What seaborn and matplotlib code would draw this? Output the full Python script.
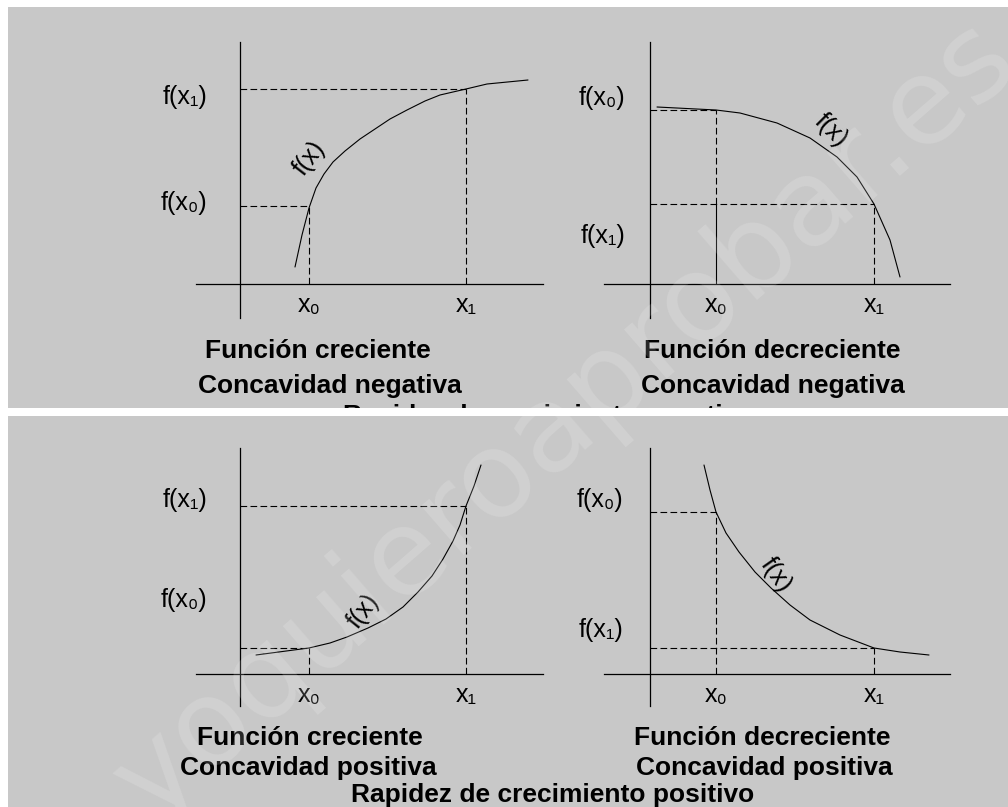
import matplotlib
matplotlib.use("Agg")
import matplotlib.pyplot as plt
import seaborn as sns

W, H = 1008, 807
PANEL = "#c8c8c8"

# Curve readings, one unit = 10 px of the original sheet, origin at the axes crossing
cre_neg_x = [5.5, 6.2, 6.9, 7.6, 8.4, 9.3, 10.5, 12.0, 13.5, 15.0, 16.7, 18.5, 20.0, 22.6, 24.7, 28.8]
cre_neg_y = [1.7, 4.9, 7.6, 9.6, 11.0, 12.2, 13.3, 14.5, 15.5, 16.5, 17.4, 18.3, 18.9, 19.5, 20.0, 20.4]

dec_neg_x = [0.7, 6.6, 9.0, 12.7, 16.0, 18.7, 20.7, 22.4, 24.0, 25.0]
dec_neg_y = [17.7, 17.4, 17.1, 16.1, 14.6, 12.7, 10.7, 8.0, 4.4, 0.7]

cre_pos_x = [1.6, 6.9, 9.0, 10.7, 12.8, 14.6, 16.3, 17.8, 19.2, 20.3, 21.3, 22.0, 22.6, 23.4, 24.1]
cre_pos_y = [1.9, 2.6, 3.1, 3.7, 4.6, 5.5, 6.7, 8.2, 9.8, 11.5, 13.3, 14.9, 16.8, 18.8, 20.9]

dec_pos_x = [5.4, 6.0, 6.6, 7.6, 8.9, 10.5, 12.1, 14.0, 16.0, 19.0, 22.4, 25.0, 27.9]
dec_pos_y = [20.9, 18.4, 16.2, 14.1, 12.2, 10.2, 8.6, 6.9, 5.4, 3.9, 2.6, 2.2, 1.9]

# x0, x1, f(x0), f(x1)
cre_neg_marks = [6.9, 22.6, 7.8, 19.5]
dec_neg_marks = [6.6, 22.4, 17.4, 8.0]
cre_pos_marks = [6.9, 22.6, 2.6, 16.8]
dec_pos_marks = [6.6, 22.4, 16.2, 2.6]

x_labels = ["x\u2080", "x\u2081"]
f_labels = ["f(x\u2080)", "f(x\u2081)"]

titles_top = [("Función creciente", 318, 358), ("Concavidad negativa", 330, 393),
              ("Función decreciente", 772, 358), ("Concavidad negativa", 773, 393),
              ("Rapidez de crecimiento negativo", 548, 423)]
titles_bottom = [("Función creciente", 310, 745), ("Concavidad positiva", 308, 775),
                 ("Función decreciente", 762, 745), ("Concavidad positiva", 764, 775),
                 ("Rapidez de crecimiento positivo", 553, 802)]

DASH = (0, (6, 3))


def panel(fig, box, titles):
    """Gray background block, titles given in sheet pixels"""
    l, t, r, b = box
    ax = fig.add_axes([l / W, 1 - b / H, (r - l) / W, (b - t) / H])
    ax.set_xlim(l, r)
    ax.set_ylim(b, t)
    ax.axis("off")
    ax.add_patch(plt.Rectangle((l, t), r - l, b - t, color=PANEL, zorder=0))
    for txt, x, y in titles:
        ax.text(x, y, txt, ha="center", va="baseline", fontsize=19,
                fontweight="bold", color="black", clip_on=True)
    return ax


def diagram(fig, box, xlim, ylim, cx, cy, marks, labels_y, fx_pos, fx_rot, solid_x0=False):
    l, t, r, b = box
    ax = fig.add_axes([l / W, 1 - b / H, (r - l) / W, (b - t) / H])
    ax.patch.set_visible(False)
    ax.set_xlim(xlim)
    ax.set_ylim(ylim)
    for s in ("top", "right"):
        ax.spines[s].set_visible(False)
    for s in ("left", "bottom"):
        ax.spines[s].set_position(("data", 0))
        ax.spines[s].set_color("black")
        ax.spines[s].set_linewidth(0.9)

    sns.lineplot(x=cx, y=cy, ax=ax, sort=False, estimator=None, color="black", lw=0.8)

    x0, x1, fx0, fx1 = marks
    ax.plot([0, x1], [fx1, fx1], color="black", lw=0.8, linestyle=DASH)
    ax.plot([x1, x1], [0, fx1], color="black", lw=0.8, linestyle=DASH)
    ax.plot([0, x0], [fx0, fx0], color="black", lw=0.8, linestyle=DASH)
    if solid_x0:
        ax.plot([x0, x0], [fx1, fx0], color="black", lw=0.8, linestyle=DASH)
        ax.plot([x0, x0], [0, fx1], color="black", lw=0.8)
    else:
        ax.plot([x0, x0], [0, fx0], color="black", lw=0.8, linestyle=DASH)

    ax.set_xticks([x0, x1], x_labels)
    ax.set_yticks([])
    ax.tick_params(axis="x", length=0, pad=6.5, labelsize=18, labelcolor="black")

    (lx, ly0, ly1) = labels_y
    ax.text(lx, ly0, f_labels[0], ha="right", va="center", fontsize=18, color="black", clip_on=False)
    ax.text(lx, ly1, f_labels[1], ha="right", va="center", fontsize=18, color="black", clip_on=False)
    ax.text(fx_pos[0], fx_pos[1], "f(x)", ha="center", va="center", fontsize=18, color="black",
            rotation=fx_rot, rotation_mode="anchor", clip_on=False)
    return ax


if __name__ == "__main__":
    sns.set_theme(style="white")
    plt.rcParams["font.family"] = ["Liberation Sans", "DejaVu Sans"]
    plt.rcParams["text.color"] = "black"

    fig = plt.figure(figsize=(W / 100, H / 100), dpi=100)
    fig.patch.set_facecolor("white")

    panel(fig, (8, 7, 1008, 408), titles_top)
    panel(fig, (8, 416, 1008, 807), titles_bottom)

    diagram(fig, (196, 42, 543, 318), (-4.4, 30.3), (-3.4, 24.2), cre_neg_x, cre_neg_y,
            cre_neg_marks, (-3.3, 8.1, 18.7), (6.9, 12.6), 52)
    diagram(fig, (604, 42, 950, 318), (-4.6, 30.0), (-3.4, 24.2), dec_neg_x, dec_neg_y,
            dec_neg_marks, (-2.5, 18.6, 4.8), (18.1, 15.4), -45, solid_x0=True)
    diagram(fig, (196, 448, 543, 706), (-4.4, 30.3), (-3.2, 22.6), cre_pos_x, cre_pos_y,
            cre_pos_marks, (-3.3, 7.4, 17.4), (12.3, 6.3), 52)
    diagram(fig, (604, 448, 950, 706), (-4.6, 30.0), (-3.2, 22.6), dec_pos_x, dec_pos_y,
            dec_pos_marks, (-2.7, 17.4, 4.4), (12.6, 9.9), -55)

    fig.text(565 / W, 1 - 420 / H, "yoquieroaprobar.es", ha="center", va="center",
             rotation=41, rotation_mode="anchor", fontsize=86, color="white",
             alpha=0.16, family="DejaVu Sans")

    fig.savefig("out.png", dpi=100, facecolor="white")
